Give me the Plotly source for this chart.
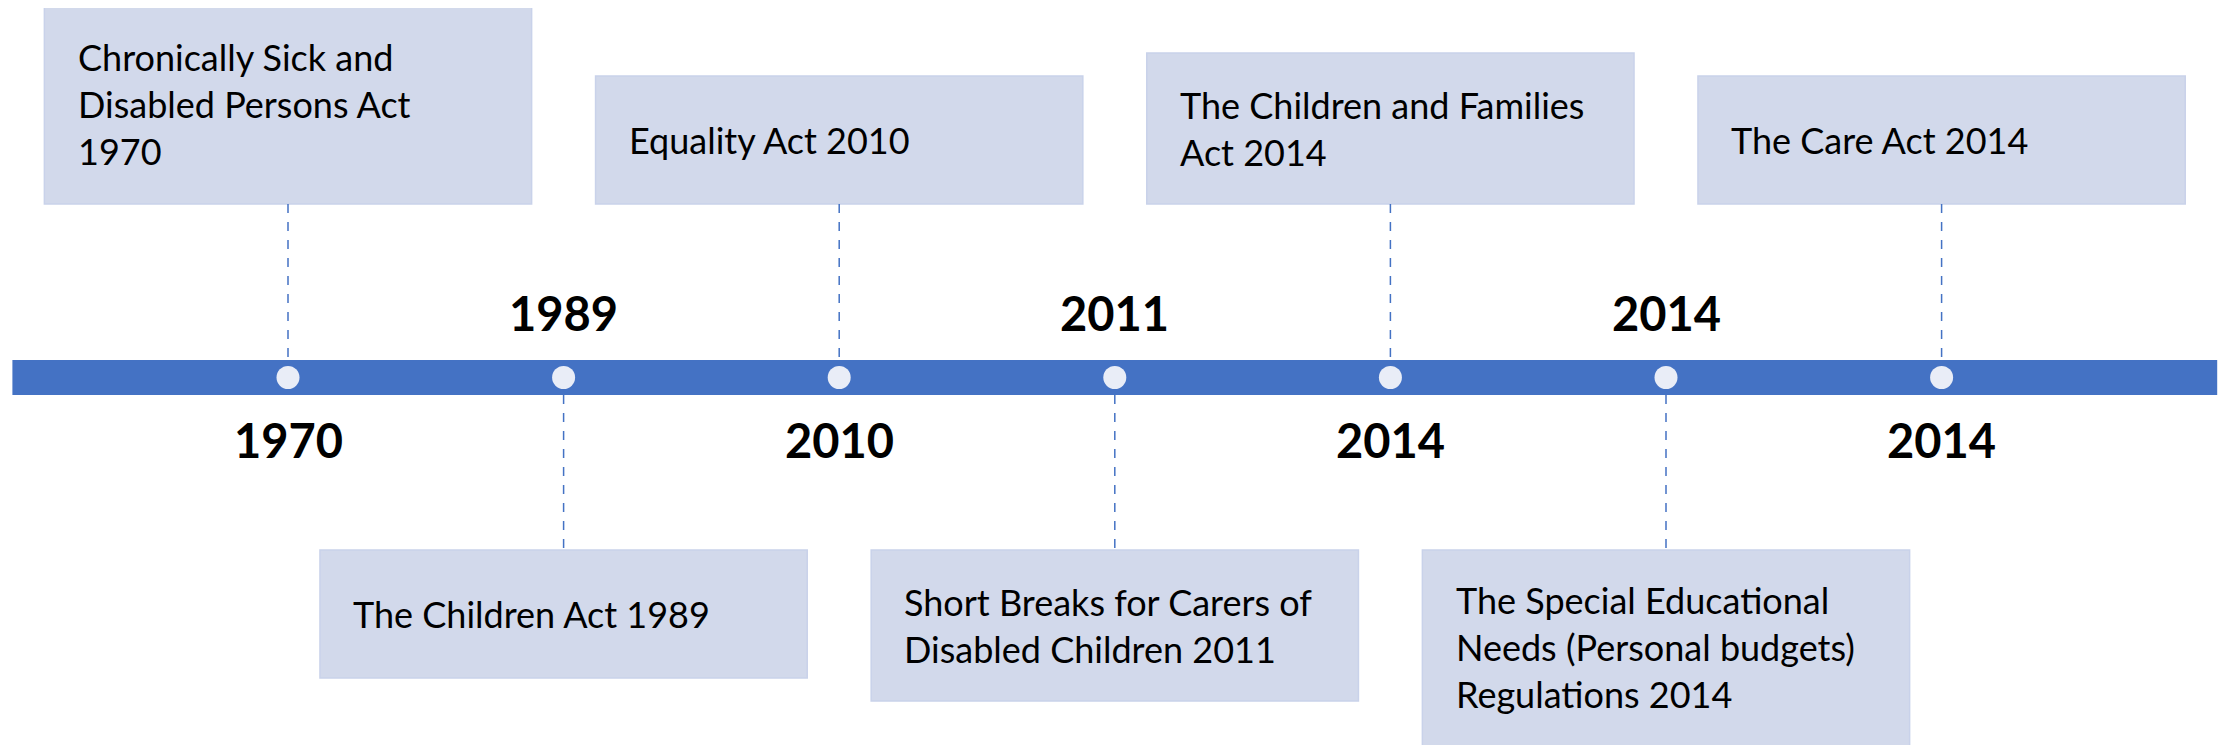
import plotly.graph_objects as go

# ---- data ----
years = ["1970", "1989", "2010", "2011", "2014", "2014", "2014"]
acts = [
    "Chronically Sick and<br>Disabled Persons Act<br>1970",
    "The Children Act 1989",
    "Equality Act 2010",
    "Short Breaks for Carers of<br>Disabled Children 2011",
    "The Children and Families<br>Act 2014",
    "The Special Educational<br>Needs (Personal budgets)<br>Regulations 2014",
    "The Care Act 2014",
]
positions = list(range(len(years)))

# ---- style / layout constants ----
W, H = 2234, 745
OFFSET = 8          # page body margin compensation (px)
BAR_COLOR = "#4472C4"
BOX_FILL = "#D2D9EB"
BOX_LINE = "#C9D2EA"
DOT_COLOR = "#E9EDF7"
FONT = "Lato"
BAR_Y0, BAR_Y1 = 360, 395
BAR_YC = (BAR_Y0 + BAR_Y1) / 2
TOP_BOX_BOTTOM = 204
BOT_BOX_TOP = 550
BOX_HEIGHT = {1: 128, 2: 151, 3: 200}
HALF_W = 0.884      # half box width in position units
PAD = 0.113         # text left padding in position units
ABOVE_Y, BELOW_Y = 313, 440
STEP_PX = 275.6
FIRST_PX = 288

fig = go.Figure()

shapes = []
annotations = []

# timeline bar
shapes.append(dict(type="rect", xref="x", yref="y", x0=-1.0, x1=7.0,
                   y0=BAR_Y0, y1=BAR_Y1, fillcolor=BAR_COLOR,
                   line=dict(width=0), layer="below"))

for i, (yr, act) in enumerate(zip(years, acts)):
    n = act.count("<br>") + 1
    h = BOX_HEIGHT[n]
    top = (i % 2 == 0)
    if top:
        y1 = TOP_BOX_BOTTOM
        y0 = y1 - h
        conn = (TOP_BOX_BOTTOM, BAR_Y0)
        label_y = BELOW_Y
    else:
        y0 = BOT_BOX_TOP
        y1 = y0 + h
        conn = (BAR_Y1, BOT_BOX_TOP)
        label_y = ABOVE_Y
    text_y = (y0 + y1) / 2 if (n < 3 or top) else y0 + 97
    shapes.append(dict(type="rect", xref="x", yref="y",
                       x0=i - HALF_W, x1=i + HALF_W, y0=y0, y1=y1,
                       fillcolor=BOX_FILL, line=dict(color=BOX_LINE, width=1.5),
                       layer="below"))
    shapes.append(dict(type="line", xref="x", yref="y", x0=i, x1=i,
                       y0=conn[0], y1=conn[1],
                       line=dict(color=BAR_COLOR, width=1.5, dash="dash")))
    annotations.append(dict(x=i - HALF_W + PAD, y=text_y,
                            xref="x", yref="y",
                            text=act, showarrow=False, xanchor="left",
                            yanchor="middle", align="left",
                            font=dict(family=FONT, size=36, color="#000000")))
    annotations.append(dict(x=i, y=label_y, xref="x", yref="y",
                            text=f"<b>{yr}</b>", showarrow=False,
                            xanchor="center", yanchor="middle",
                            font=dict(family=FONT, size=47, color="#000000")))

# dots
fig.add_trace(go.Scatter(x=positions, y=[BAR_YC] * len(positions), mode="markers",
                         marker=dict(size=23, color=DOT_COLOR, line=dict(width=0)),
                         hoverinfo="text", hovertext=years, showlegend=False))

x_lo = (0 - (FIRST_PX - OFFSET)) / STEP_PX
x_hi = (W - (FIRST_PX - OFFSET)) / STEP_PX

fig.update_layout(
    width=W, height=H,
    margin=dict(l=0, r=0, t=0, b=0),
    paper_bgcolor="white", plot_bgcolor="white",
    shapes=shapes, annotations=annotations,
    xaxis=dict(range=[x_lo, x_hi], visible=False, fixedrange=True),
    yaxis=dict(range=[H + OFFSET, OFFSET], visible=False, fixedrange=True),
    showlegend=False,
)

fig.write_html("out.html")
